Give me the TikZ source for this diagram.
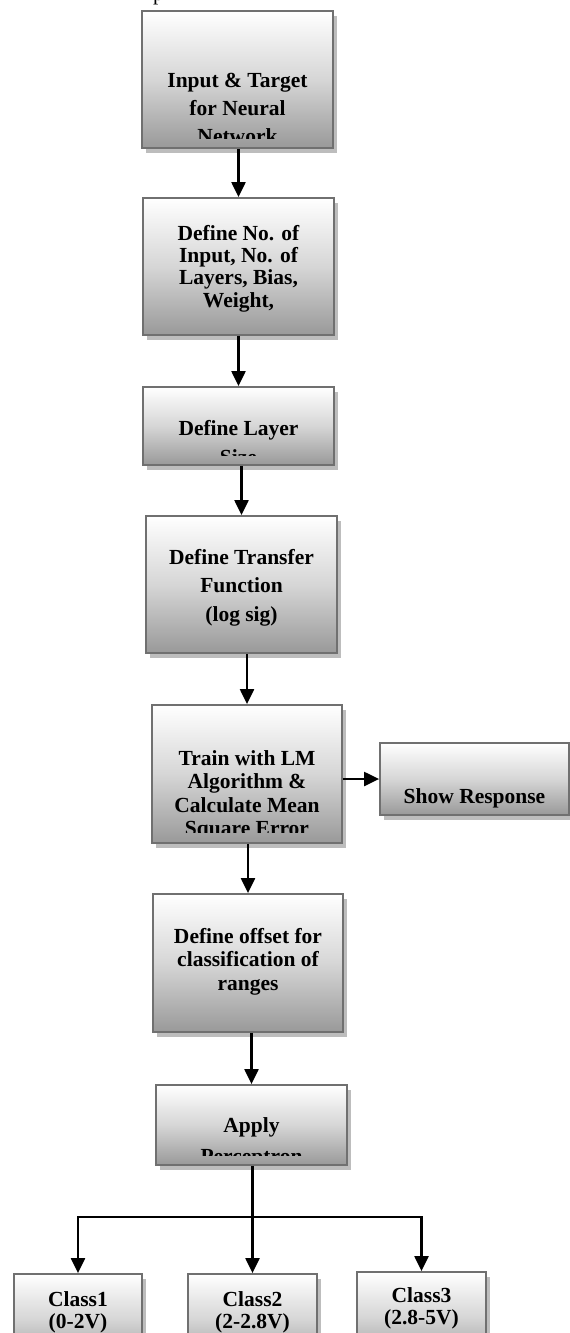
\documentclass[tikz,border=0pt]{standalone}
\usepackage{fontspec}
\setmainfont{Liberation Serif}
\usetikzlibrary{arrows.meta,shadows}
\definecolor{boxedge}{HTML}{707070}
\definecolor{boxlow}{HTML}{999999}
\definecolor{boxmid}{HTML}{D6D6D6}
\definecolor{boxshadow}{HTML}{BDBDBD}
\begin{document}
\begin{tikzpicture}[x=1pt,y=-1pt,
  box/.style={draw=boxedge, line width=1.8pt, top color=white, bottom color=boxlow,
    middle color=boxmid, inner sep=0pt,
    drop shadow={shadow xshift=4pt, shadow yshift=-5pt, fill=boxshadow, opacity=1}},
  txt/.style={inner sep=0pt, anchor=north, align=center, text=black,
    font=\bfseries\fontsize{21.5}{#1}\selectfont},
  arr/.style={line width=2.2pt, -{Triangle[width=14pt,length=15pt]}}
]
\useasboundingbox (0,0) rectangle (570,1333);
\clip (0,0) rectangle (570,1333);

% descender of a caption line above the chart
\node[inner sep=0pt, anchor=base west, font=\fontsize{21}{22}\selectfont] (cap) at (153,0) {p};

% process boxes
\node[box, minimum width=191pt, minimum height=137pt] (b1) at (237.5,79.5) {};
\node[box, minimum width=191pt, minimum height=137pt] (b2) at (238.5,266.5) {};
\node[box, minimum width=191pt, minimum height=78pt]  (b3) at (238.5,426) {};
\node[box, minimum width=191pt, minimum height=137pt] (b4) at (241.5,584.5) {};
\node[box, minimum width=190pt, minimum height=138pt] (b5) at (247,774) {};
\node[box, minimum width=189pt, minimum height=72pt]  (s)  at (474.5,779) {};
\node[box, minimum width=190pt, minimum height=138pt] (b6) at (248,963) {};
\node[box, minimum width=191pt, minimum height=80pt]  (b7) at (251.5,1125) {};
\node[box, minimum width=128pt, minimum height=90pt]  (c1) at (78,1319) {};
\node[box, minimum width=129pt, minimum height=90pt]  (c2) at (252.5,1319) {};
\node[box, minimum width=129pt, minimum height=90pt]  (c3) at (421.5,1317) {};

% box texts (overflowing lines are cut off near the lower edge)
\begin{scope}
  \clip (b1.north west) rectangle ([yshift=10pt]b1.south east);
  \node[txt=28] (t1) at (237.5,67.4) {\strut Input \& Target\\\strut for Neural\\\strut Network};
\end{scope}
\node[txt=22.3] (t2) at (238.5,224.4) {\strut Define No. of\\\strut Input, No. of\\\strut Layers, Bias,\\\strut Weight,};
\begin{scope}
  \clip (b3.north west) rectangle ([yshift=10pt]b3.south east);
  \node[txt=29] (t3) at (238.5,414.7) {\strut Define Layer\\\strut Size};
\end{scope}
\node[txt=28.5] (t4) at (241.5,544) {\strut Define Transfer\\\strut Function\\\strut (log sig)};
\begin{scope}
  \clip (b5.north west) rectangle ([yshift=11pt]b5.south east);
  \node[txt=23.5] (t5) at (247,748.5) {\strut Train with LM\\\strut Algorithm \&\\\strut Calculate Mean\\\strut Square Error};
\end{scope}
\node[txt=22] (ts) at (474.5,787.6) {\strut Show Response};
\node[txt=23.5] (t6) at (248,926.5) {\strut Define offset for\\\strut classification of\\\strut ranges};
\begin{scope}
  \clip (b7.north west) rectangle ([yshift=10pt]b7.south east);
  \node[txt=31] (t7) at (251.5,1110.3) {\strut Apply\\\strut Perceptron};
\end{scope}
\node[txt=22] (tc1) at (78,1290.6) {\strut Class1\\\strut (0-2V)};
\node[txt=22] (tc2) at (252.5,1290.6) {\strut Class2\\\strut (2-2.8V)};
\node[txt=22] (tc3) at (421.5,1286.6) {\strut Class3\\\strut (2.8-5V)};

% connectors
\draw[arr] (b1.south -| b2.north) -- (b2.north);
\draw[arr] (b2.south -| b3.north) -- (b3.north);
\draw[arr] (b3.south -| b4.north) -- (b4.north);
\draw[arr] (b4.south -| b5.north) -- (b5.north);
\draw[arr] (b5.east |- s.west) -- (s.west);
\draw[arr] (b5.south -| b6.north) -- (b6.north);
\draw[arr] (b6.south -| b7.north) -- (b7.north);
\coordinate (fork) at (252,1217);
\draw[arr] (b7.south -| c2.north) -- (c2.north);
\draw[arr] (fork) -| (c1.north);
\draw[arr] (fork) -| (c3.north);
\end{tikzpicture}
\end{document}
